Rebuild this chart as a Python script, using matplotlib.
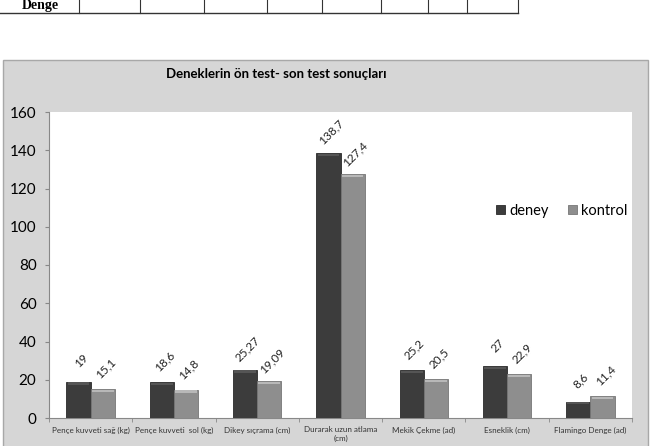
import numpy as np
import matplotlib
matplotlib.use("Agg")
import matplotlib.pyplot as plt
from matplotlib.patches import Rectangle

# ================= DATA =================
categories = [
    "Pençe kuvveti sağ (kg)",
    "Pençe kuvveti  sol (kg)",
    "Dikey sıçrama (cm)",
    "Durarak uzun atlama\n(cm)",
    "Mekik Çekme (ad)",
    "Esneklik (cm)",
    "Flamingo Denge (ad)",
]
deney = [19, 18.6, 25.27, 138.7, 25.2, 27, 8.6]
kontrol = [15.1, 14.8, 19.09, 127.4, 20.5, 22.9, 11.4]
deney_labels = ["19", "18,6", "25,27", "138,7", "25,2", "27", "8,6"]
kontrol_labels = ["15,1", "14,8", "19,09", "127,4", "20,5", "22,9", "11,4"]
yticks = [0, 20, 40, 60, 80, 100, 120, 140, 160]

plt.rcParams['font.family'] = ['Lato', 'DejaVu Sans']

fig = plt.figure(figsize=(6.57, 4.46), dpi=100)
W, H = 657, 446


def fx(x):
    return x / W


def fy(y):
    return 1 - y / H


# ================= TABLE FRAGMENT =================
fig.add_artist(plt.Line2D([0, fx(518)], [fy(13), fy(13)], color="#333333", lw=1.0))
for x in [79, 140, 204, 267, 322, 381, 428, 467, 518]:
    fig.add_artist(plt.Line2D([fx(x), fx(x)], [fy(0), fy(13)], color="#333333", lw=0.8))
fig.text(fx(40), fy(6), "Denge", family="Liberation Serif", weight="bold",
         fontsize=10, ha="center", va="center")

# ================= CHART FRAME =================
fig.add_artist(Rectangle((fx(3), fy(446) - 0.01), fx(645), fy(60) - fy(446) + 0.01,
                         facecolor="#d6d6d6", edgecolor="#a8a8a8", lw=1.0,
                         transform=fig.transFigure, zorder=0))
fig.text(fx(276), fy(74), "Deneklerin ön test- son test sonuçları",
         fontsize=9.5, weight="bold", ha="center", va="center")

ax = fig.add_axes([fx(49), fy(418), fx(632 - 49), fy(112) - fy(418)])
ax.set_facecolor("white")

x = np.arange(len(categories))
w = 0.29
b1 = ax.bar(x - w / 2, deney, w, color="#3c3c3c", edgecolor="#2a2a2a", lw=0.6,
            label="deney", zorder=3)
b2 = ax.bar(x + w / 2, kontrol, w, color="#8e8e8e", edgecolor="#767676", lw=0.6,
            label="kontrol", zorder=3)

# soft bevel on the top of each bar
for bars, col in [(b1, "#555555"), (b2, "#b8b8b8")]:
    for r in bars:
        h = r.get_height()
        ax.add_patch(Rectangle((r.get_x() + 0.015, h - 1.5), r.get_width() - 0.03, 1.1,
                               facecolor=col, edgecolor="none", zorder=4))

for bars, labs in [(b1, deney_labels), (b2, kontrol_labels)]:
    for r, lab in zip(bars, labs):
        ax.annotate(lab, (r.get_x() + r.get_width() / 2, r.get_height()),
                    xytext=(2, 15), textcoords="offset points", rotation=45,
                    ha="center", va="center", fontsize=8.5,
                    color="#222222")

ax.set_xlim(-0.5, len(categories) - 0.5)
ax.set_ylim(0, 160)
ax.set_yticks(yticks)
ax.tick_params(axis="y", labelsize=11, length=3, color="#888888", pad=6)
ax.set_xticks(x)
ax.set_xticklabels(categories, fontsize=5.8, color="#333333")
ax.tick_params(axis="x", length=0, pad=6)
ax.set_xticks(np.arange(len(categories) + 1) - 0.5, minor=True)
ax.tick_params(axis="x", which="minor", length=3, color="#888888")

for s in ["top", "right"]:
    ax.spines[s].set_visible(False)
ax.spines["left"].set_color("#888888")
ax.spines["bottom"].set_color("#888888")

ax.legend(loc="center left", bbox_to_anchor=(0.745, 0.677), ncol=2, frameon=False,
          fontsize=10.5, handlelength=0.6, handleheight=0.6, handletextpad=0.3,
          columnspacing=1.3)

fig.savefig("out.png", dpi=100)
